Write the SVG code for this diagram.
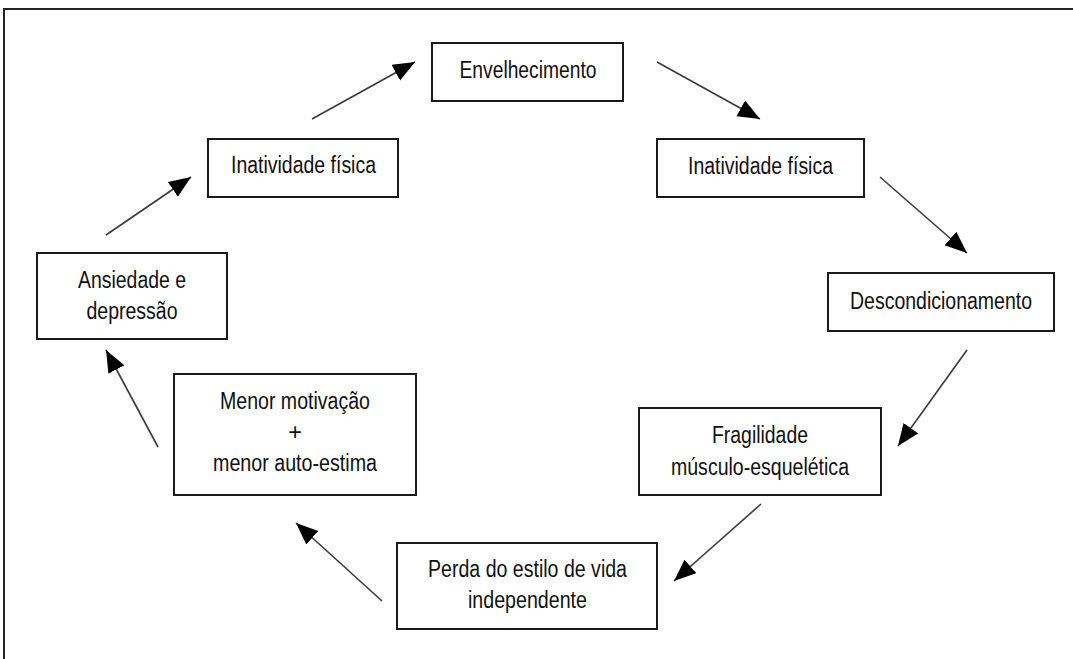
<svg xmlns="http://www.w3.org/2000/svg" width="1073" height="659" viewBox="0 0 1073 659">
<style>
  .box { fill: #fff; stroke: #1a1a1a; stroke-width: 2; }
  .lbl { font-family: "Liberation Sans", Arial, sans-serif; font-size: 23.5px; fill: #111; text-anchor: middle; }
  .conn { stroke: #3a3a3a; stroke-width: 1.6; fill: none; marker-end: url(#arr); }
</style>
<defs>
  <marker id="arr" markerUnits="userSpaceOnUse" markerWidth="24" markerHeight="20" refX="22" refY="9" orient="auto">
    <path d="M0,0 L22,9 L0,18 z" fill="#000"/>
  </marker>
</defs>
<rect width="1073" height="659" fill="#fff"/>
<path d="M4,659 V9 H1073" fill="none" stroke="#222" stroke-width="2"/>

<g id="connectors">
  <line class="conn" x1="106" y1="235" x2="191" y2="177"/>
  <line class="conn" x1="312" y1="119" x2="415" y2="62"/>
  <line class="conn" x1="657" y1="62" x2="760" y2="119"/>
  <line class="conn" x1="880" y1="177" x2="967" y2="253"/>
  <line class="conn" x1="967" y1="350" x2="898" y2="446"/>
  <line class="conn" x1="761" y1="504" x2="674" y2="581"/>
  <line class="conn" x1="382" y1="601" x2="296" y2="523"/>
  <line class="conn" x1="158" y1="447" x2="106" y2="350"/>
</g>

<g id="envelhecimento">
  <rect class="box" x="432" y="43" width="191" height="58"/>
  <text class="lbl" x="528" y="78" textLength="137" lengthAdjust="spacingAndGlyphs">Envelhecimento</text>
</g>
<g id="inatividade-dir">
  <rect class="box" x="657" y="139" width="207" height="58"/>
  <text class="lbl" x="760.5" y="174" textLength="145" lengthAdjust="spacingAndGlyphs">Inatividade física</text>
</g>
<g id="descondicionamento">
  <rect class="box" x="828" y="273" width="226" height="58"/>
  <text class="lbl" x="941" y="309" textLength="182" lengthAdjust="spacingAndGlyphs">Descondicionamento</text>
</g>
<g id="fragilidade">
  <rect class="box" x="639" y="408" width="242" height="87"/>
  <text class="lbl" x="760" y="443" textLength="96" lengthAdjust="spacingAndGlyphs">Fragilidade</text>
  <text class="lbl" x="760" y="475" textLength="178" lengthAdjust="spacingAndGlyphs">músculo-esquelética</text>
</g>
<g id="perda">
  <rect class="box" x="397" y="543" width="260" height="86"/>
  <text class="lbl" x="527.5" y="577" textLength="199" lengthAdjust="spacingAndGlyphs">Perda do estilo de vida</text>
  <text class="lbl" x="527.5" y="608" textLength="119" lengthAdjust="spacingAndGlyphs">independente</text>
</g>
<g id="menor-motivacao">
  <rect class="box" x="174" y="374" width="242" height="121"/>
  <text class="lbl" x="295" y="409" textLength="150" lengthAdjust="spacingAndGlyphs">Menor motivação</text>
  <text class="lbl" x="295" y="440" font-size="20">+</text>
  <text class="lbl" x="295" y="471" textLength="164" lengthAdjust="spacingAndGlyphs">menor auto-estima</text>
</g>
<g id="ansiedade">
  <rect class="box" x="37" y="253" width="190" height="86"/>
  <text class="lbl" x="132" y="288" textLength="108" lengthAdjust="spacingAndGlyphs">Ansiedade e</text>
  <text class="lbl" x="132" y="319" textLength="91" lengthAdjust="spacingAndGlyphs">depressão</text>
</g>
<g id="inatividade-esq">
  <rect class="box" x="208" y="139" width="190" height="58"/>
  <text class="lbl" x="303.5" y="173" textLength="145" lengthAdjust="spacingAndGlyphs">Inatividade física</text>
</g>
</svg>
